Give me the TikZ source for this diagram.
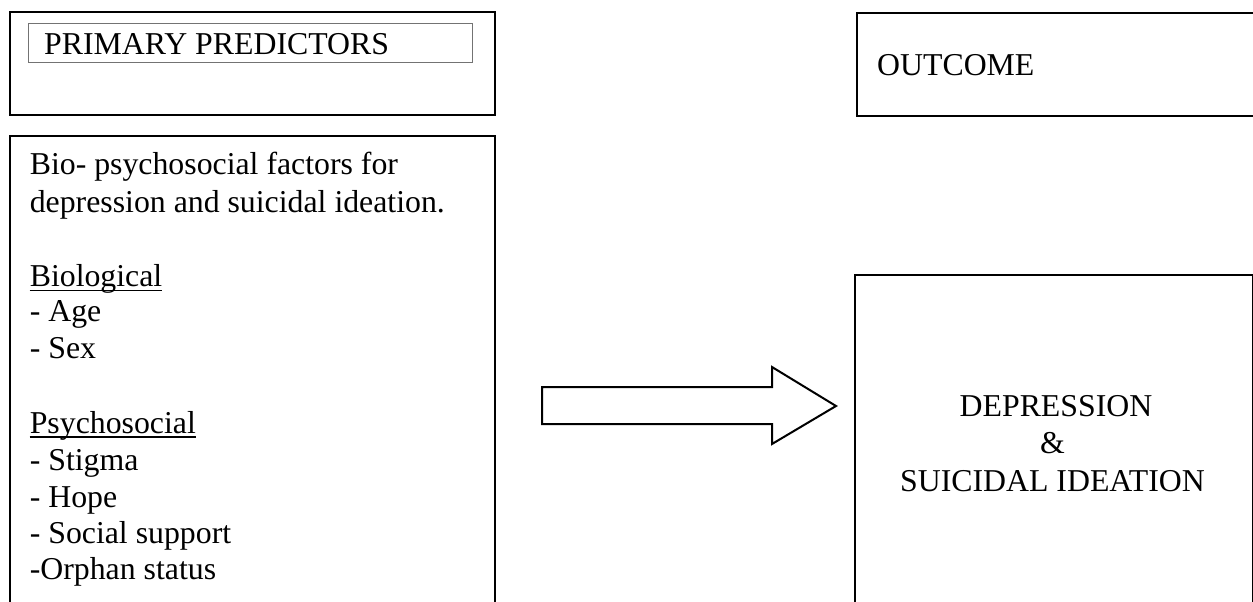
\documentclass[tikz,border=0pt]{standalone}
\usepackage{fontspec}
\setmainfont{Liberation Serif}
\begin{document}
\begin{tikzpicture}[x=1pt,y=-1pt,
  box/.style={draw=black,line width=2pt,inner sep=0pt,anchor=north west},
  inbox/.style={draw=black!55,line width=1.3pt,inner sep=0pt,anchor=north west},
  txt/.style={anchor=base west,inner sep=0pt,font=\fontsize{31.8}{36.7}\selectfont},
  ctxt/.style={anchor=base,inner sep=0pt,font=\fontsize{31.8}{36.7}\selectfont},
  uline/.style={line width=1.7pt},
  bigarrow/.style={draw=black,line width=2pt,fill=white,line join=miter}]
\useasboundingbox (0,0) rectangle (1253,602);
\clip (0,0) rectangle (1253,602);
% boxes
\node[box,minimum width=485pt,minimum height=102.5pt] (pp) at (8.5,11.5) {};
\node[inbox,minimum width=444pt,minimum height=39pt] (ppin) at (28,23) {};
\node[box,minimum width=402pt,minimum height=103pt] (oc) at (856,12) {};
\node[box,minimum width=485pt,minimum height=500pt] (bio) at (8.5,135) {};
\node[box,minimum width=397.5pt,minimum height=360pt] (dep) at (854,274) {};
% headings
\node[txt] (ppt) at (44,55) {PRIMARY PREDICTORS};
\node[txt] (oct) at (877,76) {OUTCOME};
% left list
\node[txt] (l1) at (29.6,174) {Bio- psychosocial factors for};
\node[txt] (l2) at (29.6,212) {depression and suicidal ideation.};
\node[txt] (l3) at (29.6,286) {Biological};
\node[txt] (l4) at (29.6,321) {- Age};
\node[txt] (l5) at (29.6,358) {- Sex};
\node[txt] (l6) at (29.6,433) {Psychosocial};
\node[txt] (l7) at (29.6,470) {- Stigma};
\node[txt] (l8) at (29.6,507) {- Hope};
\node[txt] (l9) at (29.6,543) {- Social support};
\node[txt] (l10) at (29.6,579) {-Orphan status};
\draw[uline] ([yshift=-4.5pt]l3.base west) -- ([yshift=-4.5pt]l3.base east);
\draw[uline] ([yshift=-4pt]l6.base west) -- ([yshift=-4pt]l6.base east);
% outcome text
\node[ctxt] (d1) at (1056,416) {DEPRESSION};
\node[ctxt] (d2) at (1052.5,453) {\&};
\node[ctxt] (d3) at (1052.5,491) {SUICIDAL IDEATION};
% block arrow
\draw[bigarrow] (542,387) -- (772,387) -- (772,367) -- (836,406) -- (772,444) -- (772,424) -- (542,424) -- cycle;
\end{tikzpicture}
\end{document}
